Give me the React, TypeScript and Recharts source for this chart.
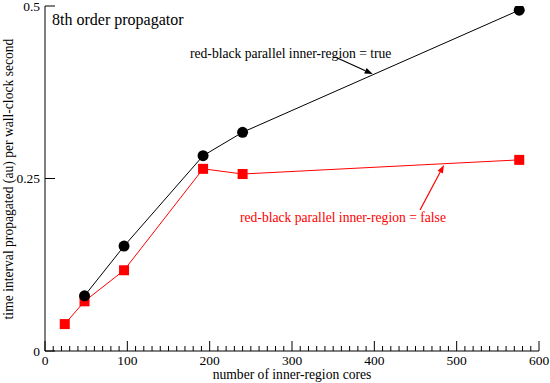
import React from "react";
import {
  ComposedChart,
  Line,
  XAxis,
  YAxis,
  ReferenceLine,
  Customized,
} from "recharts";

const FONT = "Liberation Serif";
const RED = "#ff0000";

// cores vs time interval propagated per wall-clock second
const trueCores = [48, 96, 192, 240, 576];
const trueRate = [0.08, 0.152, 0.283, 0.317, 0.494];
const falseCores = [24, 48, 96, 192, 240, 576];
const falseRate = [0.039, 0.072, 0.117, 0.264, 0.2565, 0.277];

const yTicks = [0, 0.25, 0.5];
const yTickLabels = ["0", "0.25", "0.5"];

// minor ticks every 10, major every 100
const xTicks = Array.from({ length: 61 }, (_, i) => i * 10);

const trueData = trueCores.map((x, i) => ({ x, y: trueRate[i] }));
const falseData = falseCores.map((x, i) => ({ x, y: falseRate[i] }));

const txt = { fontFamily: FONT };

function BottomTick({ x, y, payload }: any) {
  const major = payload.value % 100 === 0;
  return (
    <g>
      <line x1={x} y1={y} x2={x} y2={y - (major ? 10 : 5)} stroke="#000" />
      {major && (
        <text x={x} y={y + 14} textAnchor="middle" fontSize={13.5} style={txt} fill="#000">
          {payload.value}
        </text>
      )}
    </g>
  );
}

function TopTick({ x, y, payload }: any) {
  const major = payload.value % 100 === 0;
  return <line x1={x} y1={y} x2={x} y2={y + (major ? 10 : 5)} stroke="#000" />;
}

function LeftTick({ x, y, payload, index }: any) {
  return (
    <g>
      <line x1={x} y1={y} x2={x + 10} y2={y} stroke="#000" />
      <text x={x - 5} y={y + 4.5} textAnchor="end" fontSize={13.5} style={txt} fill="#000">
        {yTickLabels[index] ?? payload.value}
      </text>
    </g>
  );
}

function RightTick({ x, y }: any) {
  return <line x1={x} y1={y} x2={x - 10} y2={y} stroke="#000" />;
}

function CircleDot({ cx, cy }: any) {
  return <circle cx={cx} cy={cy} r={5.5} fill="#000" />;
}

function SquareDot({ cx, cy }: any) {
  return <rect x={cx - 5} y={cy - 5} width={10} height={10} fill={RED} />;
}

function Arrow({ x1, y1, x2, y2, color }: any) {
  const a = Math.atan2(y2 - y1, x2 - x1);
  const len = 8;
  const w = 3;
  const bx = x2 - len * Math.cos(a);
  const by = y2 - len * Math.sin(a);
  const px = -Math.sin(a) * w;
  const py = Math.cos(a) * w;
  return (
    <g>
      <line x1={x1} y1={y1} x2={bx} y2={by} stroke={color} strokeWidth={1.2} />
      <polygon points={`${x2},${y2} ${bx + px},${by + py} ${bx - px},${by - py}`} fill={color} />
    </g>
  );
}

function Texts() {
  return (
    <g style={txt}>
      <text x={52} y={25} fontSize={16} style={txt} fill="#000">8th order propagator</text>
      <text x={190} y={58} fontSize={13.6} style={txt} fill="#000">red-black parallel inner-region = true</text>
      <text x={240} y={222} fontSize={13.6} style={txt} fill={RED}>red-black parallel inner-region = false</text>
      <text x={292} y={379} fontSize={13.6} textAnchor="middle" style={txt} fill="#000">
        number of inner-region cores
      </text>
      <text
        x={13}
        y={179}
        fontSize={13.6}
        textAnchor="middle"
        style={txt}
        fill="#000"
        transform="rotate(-90, 13, 179)"
      >
        time interval propagated (au) per wall-clock second
      </text>
    </g>
  );
}

export default function App() {
  return (
    <div style={{ position: "absolute", left: 0, top: 0, width: 550, height: 383, background: "#fff", fontFamily: FONT }}>
      <ComposedChart width={550} height={383} margin={{ top: 6, right: 11, bottom: 0, left: 0 }}>
        <XAxis
          xAxisId="b"
          dataKey="x"
          type="number"
          domain={[0, 600]}
          ticks={xTicks}
          interval={0}
          height={32}
          tickSize={0}
          tickMargin={0}
          tickLine={false}
          axisLine={{ stroke: "#000" }}
          tick={<BottomTick />}
          allowDataOverflow
        />
        <XAxis
          xAxisId="t"
          orientation="top"
          dataKey="x"
          type="number"
          domain={[0, 600]}
          ticks={xTicks}
          interval={0}
          height={0}
          tickSize={0}
          tickMargin={0}
          tickLine={false}
          axisLine={{ stroke: "#000" }}
          tick={<TopTick />}
        />
        <YAxis
          yAxisId="l"
          type="number"
          domain={[0, 0.5]}
          ticks={yTicks}
          interval={0}
          width={45}
          tickSize={0}
          tickMargin={0}
          tickLine={false}
          axisLine={{ stroke: "#000" }}
          tick={<LeftTick />}
          allowDataOverflow
        />
        <YAxis
          yAxisId="r"
          orientation="right"
          type="number"
          domain={[0, 0.5]}
          ticks={yTicks}
          interval={0}
          width={0}
          tickSize={0}
          tickMargin={0}
          tickLine={false}
          axisLine={{ stroke: "#000" }}
          tick={<RightTick />}
        />
        <Line
          xAxisId="b"
          yAxisId="l"
          data={falseData}
          dataKey="y"
          stroke={RED}
          strokeWidth={1}
          dot={<SquareDot />}
          activeDot={false}
          isAnimationActive={false}
        />
        <Line
          xAxisId="b"
          yAxisId="l"
          data={trueData}
          dataKey="y"
          stroke="#000"
          strokeWidth={1}
          dot={<CircleDot />}
          activeDot={false}
          isAnimationActive={false}
        />
        <ReferenceLine
          xAxisId="b"
          yAxisId="l"
          segment={[{ x: 355, y: 0.4246 }, { x: 398, y: 0.4014 }]}
          shape={(p: any) => <Arrow {...p} color="#000" />}
        />
        <ReferenceLine
          xAxisId="b"
          yAxisId="l"
          segment={[{ x: 455.5, y: 0.2043 }, { x: 484.6, y: 0.2696 }]}
          shape={(p: any) => <Arrow {...p} color={RED} />}
        />
        <Customized component={Texts} />
      </ComposedChart>
    </div>
  );
}
